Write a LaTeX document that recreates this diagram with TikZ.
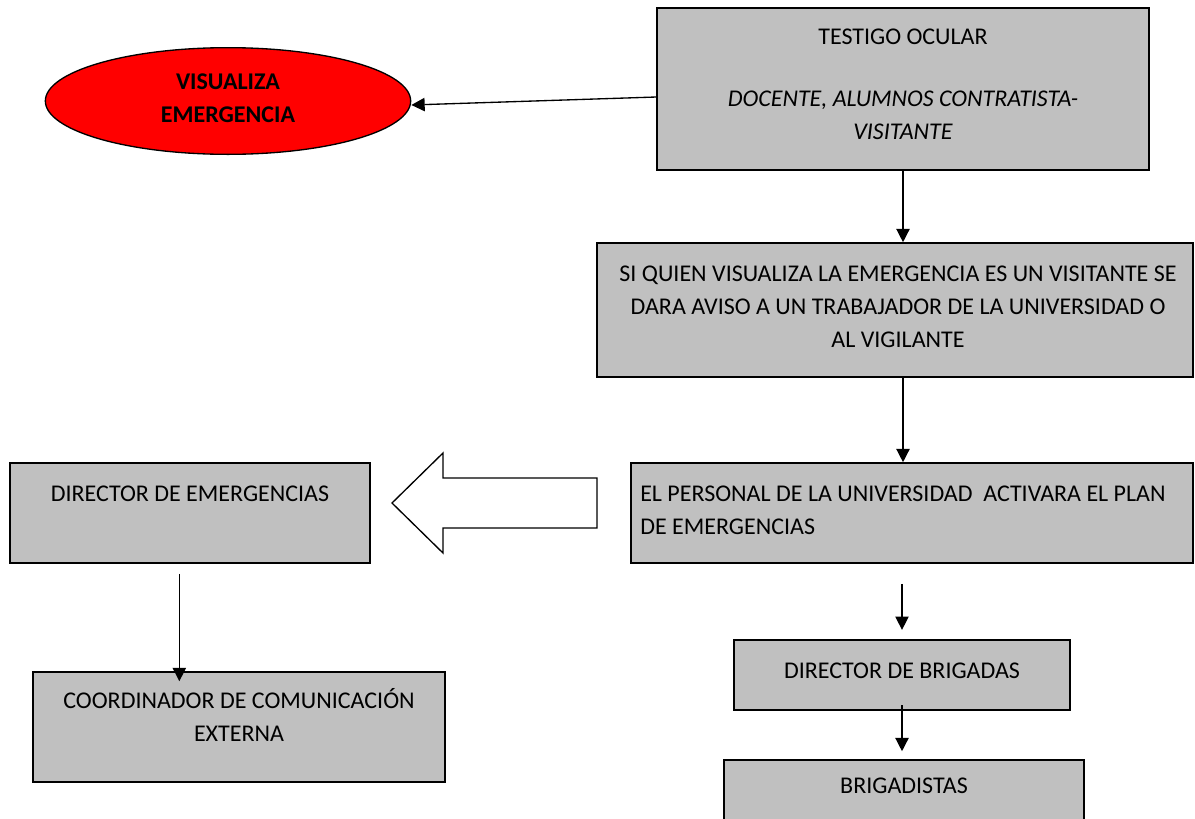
\documentclass[tikz,border=0pt]{standalone}
\usepackage{fontspec}
\setmainfont{Carlito}
\usetikzlibrary{arrows.meta,shapes.geometric}
\definecolor{cajagris}{RGB}{192,192,192}
\definecolor{rojoemer}{RGB}{255,0,0}

\begin{document}
\begin{tikzpicture}[x=0.75pt, y=-0.75pt,
		font=\fontsize{18}{24.75}\selectfont]
\useasboundingbox (0,0) rectangle (1195,818);

% Cajas
\begin{scope}[
		every node/.style = {shape = rectangle, draw = black,
		line width = 1.2pt, fill = cajagris}]
	\node[minimum width = 369pt, minimum height = 121.5pt] (testigo) at (903,89) {};
	\node[minimum width = 447pt, minimum height = 100.5pt] (aviso) at (895,310) {};
	\node[minimum width = 421.5pt, minimum height = 75pt] (activa) at (912,513) {};
	\node[minimum width = 270pt, minimum height = 75pt] (direm) at (190,513) {};
	\node[minimum width = 309pt, minimum height = 82.5pt] (coord) at (239,727) {};
	\node[minimum width = 252pt, minimum height = 52.5pt] (dirbr) at (902,675) {};
	\node[minimum width = 270pt, minimum height = 60pt] (brig) at (904,800) {};
	\node[shape = ellipse, fill = rojoemer, line width = 1pt,
		minimum width = 274pt, minimum height = 80pt] (visualiza) at (228,101) {};
\end{scope}

% Textos
\begin{scope}[every node/.style = {align = center, inner sep = 0pt}]
	\node (testigoT) at (903,84) {TESTIGO OCULAR\\[21.75pt]
		\textit{DOCENTE, ALUMNOS CONTRATISTA-}\\\textit{VISITANTE}};
	\node (avisoT) at (898,307) {SI QUIEN VISUALIZA LA EMERGENCIA ES UN VISITANTE SE\\
		DARA AVISO A UN TRABAJADOR DE LA UNIVERSIDAD O\\AL VIGILANTE};
	\node[anchor = west, align = left] (activaT) at (640,510)
		{EL PERSONAL DE LA UNIVERSIDAD\ \ ACTIVARA EL PLAN\\DE EMERGENCIAS};
	\node (diremT) at (190,494) {DIRECTOR DE EMERGENCIAS};
	\node (coordT) at (239,715) {COORDINADOR DE COMUNICACIÓN\\EXTERNA};
	\node (dirbrT) at (902,671) {DIRECTOR DE BRIGADAS};
	\node (brigT) at (904,786) {BRIGADISTAS};
	\node[font = \fontsize{18}{24.75}\selectfont\bfseries] (visualizaT) at (228,98)
		{VISUALIZA\\EMERGENCIA};
\end{scope}

% Flechas
\begin{scope}[
		every edge/.style = {draw = black, line width = 1pt,
		-{Triangle[length = 10pt, width = 10pt]}}]
	\path ([yshift = -6pt]testigo.west) edge ([yshift = -3pt]visualiza.east);
	\path (testigo.south) edge (testigo.south |- aviso.north);
	\path (testigo.south |- aviso.south) edge (testigo.south |- activa.north);
	\path ([yshift = -15pt]activa.south -| dirbr.north) edge ([yshift = 7pt]dirbr.north);
	\path ([yshift = 4pt]dirbr.south) edge ([yshift = 6pt]dirbr.south |- brig.north);
	\path ([xshift = -8pt, yshift = -7.5pt]direm.south)
		edge ([xshift = -8pt, yshift = -7.5pt]direm.south |- coord.north);
\end{scope}

% Flecha de bloque
\draw[line width = 1pt, fill = white] (597,478) -- (443,478) -- (443,453)
	-- (392,503) -- (443,553) -- (443,528) -- (597,528) -- cycle;
\end{tikzpicture}
\end{document}
